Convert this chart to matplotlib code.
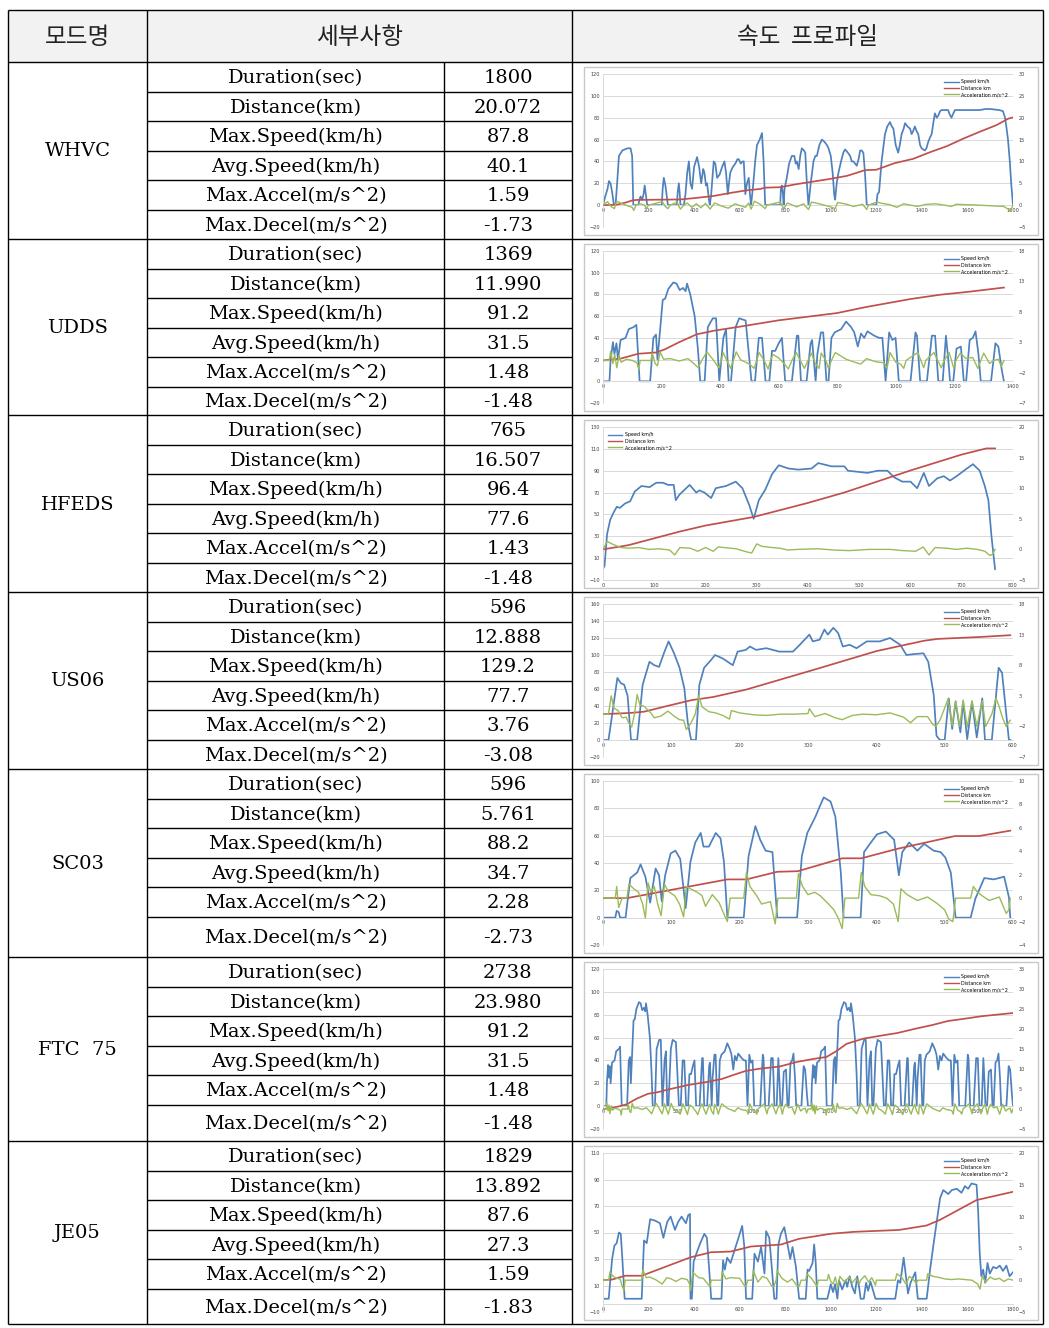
"""
Driving cycle summary table (Korean) with speed / distance / acceleration
profile thumbnails for each cycle.
"""

import matplotlib.pyplot as plt
from matplotlib.patches import Rectangle
from matplotlib.lines import Line2D

# ---------------------------------------------------------------- table text
header = ['모드명', '세부사항', '속도  프로파일']
modes = ['WHVC', 'UDDS', 'HFEDS', 'US06', 'SC03', 'FTC  75', 'JE05']
items = ['Duration(sec)', 'Distance(km)', 'Max.Speed(km/h)',
         'Avg.Speed(km/h)', 'Max.Accel(m/s^2)', 'Max.Decel(m/s^2)']
values = [
    ['1800', '20.072', '87.8', '40.1', '1.59', '-1.73'],
    ['1369', '11.990', '91.2', '31.5', '1.48', '-1.48'],
    ['765', '16.507', '96.4', '77.6', '1.43', '-1.48'],
    ['596', '12.888', '129.2', '77.7', '3.76', '-3.08'],
    ['596', '5.761', '88.2', '34.7', '2.28', '-2.73'],
    ['2738', '23.980', '91.2', '31.5', '1.48', '-1.48'],
    ['1829', '13.892', '87.6', '27.3', '1.59', '-1.83'],
]
legend_labels = ['Speed km/h', 'Distance km', 'Acceleration m/s^2']

# ---------------------------------------------------------------- profiles (time s, value)
whvc_speed = [(0, 0), (10, 8), (20, 15), (26, 22), (33, 20), (40, 12), (48, 0), (55, 0), (62, 20), (70, 45),
              (85, 50), (107, 52), (121, 52), (128, 45), (133, 0), (155, 0), (160, 5), (165, 8), (172, 5),
              (178, 10), (183, 18), (188, 10), (194, 0), (258, 0), (262, 15), (267, 25), (274, 18), (280, 8),
              (285, 0), (324, 0), (328, 12), (333, 20), (337, 10), (340, 0), (355, 0), (362, 10), (370, 30),
              (377, 40), (384, 20), (391, 15), (400, 35), (413, 44), (422, 35), (431, 20), (440, 33), (445, 30),
              (452, 18), (457, 20), (465, 5), (469, 0), (475, 10), (486, 40), (493, 38), (501, 25), (512, 28),
              (523, 35), (533, 40), (540, 30), (548, 10), (553, 20), (559, 30), (570, 35), (581, 38), (590, 42),
              (596, 42), (605, 38), (612, 40), (618, 40), (625, 10), (632, 20), (640, 25), (645, 10), (650, 0),
              (660, 20), (668, 40), (676, 55), (688, 60), (698, 66), (705, 40), (712, 0), (778, 0), (781, 15),
              (785, 18), (790, 10), (793, 0), (797, 15), (807, 25), (817, 38), (829, 45), (840, 45), (846, 38),
              (851, 40), (859, 33), (866, 45), (873, 52), (882, 50), (888, 48), (895, 20), (902, 0), (912, 20),
              (924, 40), (932, 45), (939, 45), (950, 55), (961, 60), (972, 58), (983, 55), (990, 52), (1000, 45),
              (1008, 30), (1015, 10), (1019, 5), (1026, 20), (1034, 30), (1045, 40), (1055, 48), (1063, 51),
              (1075, 48), (1085, 45), (1092, 40), (1099, 40), (1107, 38), (1114, 36), (1122, 42), (1129, 50),
              (1136, 50), (1143, 48), (1150, 30), (1158, 0), (1200, 0), (1205, 10), (1212, 12), (1223, 40),
              (1232, 55), (1238, 65), (1248, 72), (1260, 76), (1268, 72), (1275, 70), (1285, 55), (1296, 48),
              (1303, 55), (1311, 65), (1320, 70), (1326, 75), (1337, 72), (1348, 70), (1355, 65), (1362, 68),
              (1369, 72), (1376, 68), (1384, 65), (1392, 55), (1399, 52), (1413, 50), (1420, 52), (1428, 58),
              (1436, 62), (1443, 65), (1450, 75), (1457, 84), (1465, 80), (1472, 82), (1480, 86), (1486, 87),
              (1515, 87), (1522, 83), (1530, 80), (1538, 84), (1545, 87), (1654, 87), (1680, 88), (1698, 88),
              (1740, 87), (1756, 86), (1765, 80), (1772, 70), (1778, 60), (1786, 40), (1792, 20), (1800, 0)]
whvc_dist = [(0, 0), (60, 0.1), (100, 0.6), (130, 1.1), (150, 1.2), (340, 1.3), (400, 1.6), (486, 2.1),
             (560, 2.8), (632, 3.4), (690, 3.7), (712, 4.0), (778, 4.1), (850, 4.8), (924, 5.4), (997, 6.0),
             (1071, 6.7), (1150, 8.0), (1200, 8.1), (1280, 9.6), (1362, 10.6), (1435, 12.1), (1510, 13.5),
             (1581, 15.2), (1650, 16.7), (1727, 18.3), (1780, 19.8), (1800, 20.07)]
whvc_acc = [(0, 0), (20, 0.8), (35, -0.3), (50, -0.8), (60, 0.9), (80, 0.4), (100, 0), (128, -0.5),
            (135, -1.2), (145, 0), (165, 0.3), (183, 0), (190, -0.8), (200, 0), (260, 0.8), (275, -0.4),
            (285, -0.8), (295, 0), (326, 0.7), (333, -0.3), (340, -0.9), (355, 0), (370, 0.5), (390, -0.5),
            (410, 0.3), (430, -0.6), (450, 0.4), (470, -0.9), (490, 0.5), (520, -0.2), (550, -0.7), (580, 0.3),
            (625, -0.5), (640, 0.5), (650, -0.9), (665, 0.9), (690, 0.2), (712, -0.8), (720, 0), (778, 0.7),
            (793, -0.8), (810, 0.5), (850, -0.4), (880, 0.3), (902, -1.0), (915, 0.7), (950, 0.3), (1000, -0.4),
            (1019, -0.8), (1030, 0.6), (1070, 0.2), (1100, -0.3), (1140, 0.2), (1158, -1.0), (1165, 0),
            (1202, 0.7), (1225, 0.4), (1260, 0.1), (1290, -0.5), (1320, 0.3), (1380, -0.3), (1420, 0.2),
            (1460, 0.3), (1500, 0), (1530, -0.3), (1550, 0.2), (1650, 0), (1760, -0.3), (1790, -1.3), (1800, 0)]

udds_speed = [(0, 0), (22, 0), (26, 20), (34, 36), (39, 25), (46, 35), (51, 20), (60, 38), (77, 40), (88, 48),
              (105, 50), (114, 52), (125, 0), (161, 0), (172, 40), (181, 43), (186, 20), (204, 75), (212, 76),
              (223, 85), (240, 91), (251, 90), (262, 84), (273, 86), (282, 83), (287, 90), (298, 80), (313, 60),
              (324, 30), (332, 0), (347, 0), (358, 50), (375, 58), (386, 58), (397, 0), (411, 40), (420, 48),
              (429, 0), (437, 0), (453, 50), (465, 58), (487, 56), (507, 0), (519, 0), (532, 40), (543, 40),
              (555, 0), (568, 0), (577, 28), (588, 28), (600, 35), (611, 40), (622, 0), (645, 0), (662, 42),
              (667, 42), (676, 0), (695, 0), (709, 35), (714, 38), (726, 0), (732, 25), (744, 45), (752, 45),
              (763, 0), (770, 0), (780, 40), (791, 45), (813, 48), (830, 55), (847, 50), (858, 45), (870, 32),
              (881, 44), (892, 40), (903, 46), (926, 42), (943, 40), (954, 40), (965, 0), (977, 45), (988, 38),
              (999, 40), (1010, 0), (1050, 0), (1067, 45), (1072, 42), (1083, 0), (1106, 0), (1123, 42),
              (1134, 42), (1145, 0), (1160, 0), (1171, 42), (1179, 20), (1185, 0), (1196, 0), (1207, 30),
              (1222, 32), (1232, 0), (1240, 0), (1252, 38), (1263, 40), (1272, 46), (1282, 25), (1290, 0),
              (1325, 0), (1340, 35), (1350, 32), (1362, 10), (1369, 0)]
udds_dist = [(0, 0), (60, 0.3), (120, 1.1), (180, 1.3), (210, 1.8), (260, 3.0), (320, 4.3), (380, 4.9),
             (460, 5.5), (600, 6.6), (800, 7.8), (900, 8.8), (1050, 10.1), (1150, 10.8), (1250, 11.3),
             (1369, 11.99)]
udds_acc = [(0, 0), (22, 0), (26, 1.5), (34, -0.5), (40, 1.0), (47, -1.2), (55, 0.8), (62, -0.3), (80, 0.2),
            (100, 0), (116, -0.4), (122, -1.5), (127, 0), (164, 0), (168, 1.2), (178, -0.5), (186, -0.9),
            (195, 1.4), (207, 0.2), (230, 0.3), (260, -0.1), (290, 0.3), (310, -0.5), (325, -1.2), (337, 0),
            (355, 1.4), (375, 0.2), (395, -1.2), (404, 0), (410, 1.3), (425, -0.2), (436, -1.3), (445, 0),
            (455, 1.4), (470, 0.1), (500, -0.6), (516, -1.3), (525, 0), (533, 1.3), (550, 0), (564, -1.4),
            (572, 0), (580, 1.0), (600, 0.4), (620, -0.6), (633, -1.4), (645, 0), (660, 1.3), (680, -0.6),
            (688, -1.3), (700, 0), (712, 1.2), (725, -0.5), (738, -1.3), (745, 1.2), (760, 0.1), (770, -1.3),
            (780, 0), (793, 1.3), (830, 0.2), (860, -0.3), (880, -0.6), (900, 0.3), (930, -0.2), (960, -0.4),
            (970, -1.3), (980, 1.3), (1000, -0.3), (1016, -0.6), (1027, -1.3), (1035, 0), (1075, 1.3),
            (1095, -1.2), (1102, 0), (1130, 1.3), (1155, -1.2), (1165, 0), (1182, 1.3), (1198, -1.3),
            (1205, 0), (1220, 1.2), (1240, 0.3), (1262, 0.5), (1280, -1.3), (1290, 0), (1300, 1.2),
            (1320, -0.5), (1335, 0), (1350, 0.2), (1360, -1.0), (1369, 0)]

hfeds_speed = [(0, 0), (3, 3), (8, 32), (14, 45), (21, 52), (27, 57), (33, 56), (43, 60), (53, 62), (62, 71),
               (75, 76), (91, 75), (104, 79), (117, 79), (127, 77), (138, 77), (142, 63), (149, 68), (169, 77),
               (182, 70), (188, 72), (198, 70), (211, 65), (220, 74), (240, 76), (259, 80), (272, 74), (285, 59),
               (294, 46), (304, 63), (317, 73), (330, 87), (343, 95), (362, 92), (381, 91), (407, 92), (420, 97),
               (446, 94), (471, 94), (478, 90), (516, 88), (536, 90), (555, 90), (568, 84), (584, 80), (600, 80),
               (613, 74), (626, 88), (636, 76), (652, 83), (665, 85), (677, 81), (690, 85), (710, 92), (722, 96),
               (735, 90), (745, 76), (752, 63), (758, 30), (765, 0)]
hfeds_dist = [(0, 0), (50, 0.7), (149, 2.9), (200, 3.9), (294, 5.3), (400, 7.6), (471, 9.3), (600, 12.9),
              (700, 15.5), (748, 16.5), (765, 16.5)]
hfeds_acc = [(0, 0), (8, 1.3), (20, 0.8), (35, 0.3), (50, 0.2), (70, 0.3), (90, 0), (110, 0.1), (130, -0.1),
             (140, -0.9), (150, 0.3), (170, 0.2), (185, -0.3), (200, 0.3), (215, -0.3), (225, 0.4), (260, 0.1),
             (280, -0.4), (290, -0.6), (300, 0.9), (310, 0.5), (330, 0.3), (345, 0.2), (360, -0.1), (380, 0),
             (420, 0.1), (450, -0.1), (480, -0.2), (520, 0), (560, 0), (585, -0.2), (610, -0.3), (625, 0.4),
             (636, -0.9), (648, 0.3), (670, 0.2), (690, 0), (710, 0.2), (730, 0), (745, -0.3), (755, -1.0),
             (760, -0.8), (765, 0)]

us06_speed = [(0, 0), (8, 0), (14, 33), (21, 73), (26, 67), (31, 65), (36, 52), (41, 0), (50, 0), (58, 65),
              (68, 92), (75, 88), (82, 86), (90, 104), (96, 116), (104, 102), (112, 85), (119, 61), (124, 21),
              (129, 0), (136, 0), (141, 65), (148, 85), (158, 94), (164, 100), (175, 96), (190, 88), (197, 104),
              (209, 106), (215, 110), (224, 106), (239, 108), (258, 104), (278, 104), (288, 112), (302, 124),
              (307, 116), (317, 118), (324, 130), (329, 124), (337, 132), (344, 126), (351, 110), (361, 112),
              (371, 108), (386, 116), (405, 116), (420, 120), (435, 112), (444, 100), (454, 101), (469, 102),
              (476, 92), (484, 53), (488, 5), (493, 0), (500, 0), (506, 49), (511, 13), (516, 45), (523, 9),
              (527, 45), (533, 1), (540, 45), (547, 3), (555, 49), (559, 0), (569, 0), (579, 85), (584, 79),
              (594, 0), (596, 0)]
us06_dist = [(0, 0), (40, 0.2), (60, 0.4), (100, 1.5), (130, 2.3), (161, 2.8), (209, 4.0), (307, 7.2),
             (400, 10.3), (470, 12.0), (490, 12.3), (550, 12.6), (596, 12.9)]
us06_acc = [(0, 0), (8, 0), (12, 3.0), (16, 1.0), (22, 0.6), (28, -0.6), (34, -0.5), (38, -1.5), (42, -2.1),
            (46, 0), (50, 3.2), (54, 1.5), (60, 1.3), (70, 0.2), (75, -0.6), (85, -0.3), (95, 0.5), (105, -0.4),
            (112, -0.9), (118, -1.0), (122, -2.5), (128, -1.6), (135, 0), (140, 3.0), (145, 1.2), (155, 0.4),
            (165, 0.2), (175, -0.2), (185, -0.8), (188, 0.6), (200, 0.2), (220, -0.1), (240, -0.2), (260, 0),
            (280, 0), (300, 0.1), (302, 0.9), (310, -0.4), (325, 0.1), (340, -0.6), (350, -0.9), (365, -0.2),
            (380, 0), (400, -0.1), (420, 0.2), (440, -0.5), (450, -1.4), (460, -0.4), (475, -0.4), (482, -1.6),
            (487, -2.0), (493, -1.0), (500, 1.0), (505, 2.5), (511, -1.9), (516, 2.2), (522, -2.0), (527, 2.3),
            (533, -2.1), (540, 2.2), (547, -2.0), (555, 2.2), (560, -2.0), (569, 0), (575, 2.6), (579, 1.5),
            (585, -0.7), (590, -2.0), (596, -1.0)]

sc03_speed = [(0, 0), (18, 0), (20, 5), (23, 4), (25, 0), (33, 0), (40, 29), (50, 33), (55, 39), (62, 30),
              (69, 11), (77, 36), (82, 31), (86, 12), (91, 31), (99, 47), (106, 49), (113, 43), (121, 7),
              (128, 41), (135, 55), (143, 62), (147, 52), (155, 52), (165, 62), (172, 58), (177, 41), (182, 0),
              (206, 0), (213, 45), (223, 67), (230, 57), (238, 49), (248, 48), (255, 0), (284, 0), (291, 45),
              (299, 62), (311, 74), (316, 80), (323, 88), (333, 85), (340, 74), (348, 33), (352, 0), (377, 0),
              (382, 48), (392, 55), (401, 61), (414, 63), (426, 57), (433, 31), (438, 48), (448, 55), (460, 49),
              (470, 54), (484, 49), (494, 48), (501, 44), (509, 33), (516, 0), (538, 0), (545, 14), (558, 29),
              (572, 28), (587, 30), (594, 15), (596, 0)]
sc03_dist = [(0, 0), (35, 0), (113, 0.85), (182, 1.6), (210, 1.6), (255, 2.25), (285, 2.3), (350, 3.4),
             (378, 3.4), (430, 4.2), (515, 5.3), (550, 5.3), (596, 5.76)]
sc03_acc = [(0, 0), (18, 0), (20, 1.0), (23, -0.8), (28, 0), (35, 0), (38, 1.2), (45, 0.8), (52, 0.5),
            (58, -0.5), (62, -1.7), (66, 1.3), (70, 0.5), (75, 1.0), (80, -0.5), (85, -1.5), (90, 1.2),
            (95, 0.6), (105, 0.2), (112, -0.5), (118, -1.6), (122, 1.0), (128, 0.8), (138, 0.5), (145, 0.2),
            (150, -0.7), (160, 0.3), (170, -0.4), (178, -1.5), (182, -2.0), (186, 0), (206, 0), (210, 2.2),
            (215, 1.0), (225, 0.2), (232, -0.5), (245, -0.3), (252, -2.2), (256, 0), (283, 0), (286, 2.1),
            (292, 1.0), (300, 0.3), (310, 0.5), (318, 0.2), (330, -0.5), (338, -1.0), (345, -1.8), (350, -2.6),
            (354, 0), (374, 0), (378, 2.2), (383, 1.0), (392, 0.3), (405, 0.2), (415, 0), (425, -0.5),
            (432, -2.0), (436, 0.8), (445, 0.3), (460, -0.2), (475, 0.1), (490, -0.5), (500, -1.0),
            (506, -1.8), (512, -2.0), (516, 0), (538, 0), (542, 1.0), (548, 0.5), (555, 0.2), (565, -0.2),
            (580, 0.1), (590, -1.3), (594, -1.0), (596, 0)]

# FTC 75 trace in the picture is the UDDS trace driven twice (second hump at ~1369 s later)
ftc_repeat = 1369
ftc75_speed = udds_speed + [(t + ftc_repeat, v) for t, v in udds_speed[1:]]
ftc75_acc = udds_acc + [(t + ftc_repeat, a) for t, a in udds_acc[1:]]
ftc75_dist = [(0, 0), (30, 0.1), (100, 0.6), (160, 1.2), (220, 2.5), (300, 3.8), (365, 4.2), (450, 5.0),
              (568, 6.0), (700, 6.8), (793, 7.5), (870, 8.5), (951, 9.5), (1050, 10.1), (1177, 10.6),
              (1300, 11.8), (1402, 12.5), (1492, 13.0), (1560, 14.5), (1627, 16.3), (1740, 17.6), (1850, 18.3),
              (1966, 19.0), (2078, 20.0), (2200, 21.0), (2304, 22.0), (2420, 22.6), (2529, 23.2), (2738, 24.0)]

je05_speed = [(0, 0), (25, 0), (40, 30), (50, 40), (60, 42), (70, 50), (78, 49), (85, 30), (95, 0), (170, 0),
              (180, 44), (192, 42), (207, 60), (228, 59), (250, 57), (265, 46), (282, 58), (297, 62), (316, 52),
              (330, 58), (345, 62), (364, 57), (374, 63), (382, 64), (384, 0), (390, 0), (398, 28), (412, 35),
              (427, 42), (445, 49), (456, 46), (465, 25), (475, 0), (520, 0), (527, 29), (535, 22), (545, 31),
              (560, 27), (580, 38), (595, 46), (602, 50), (611, 55), (620, 40), (628, 0), (655, 0), (665, 34),
              (680, 28), (694, 39), (709, 19), (716, 51), (730, 46), (738, 30), (752, 0), (762, 0), (770, 41),
              (781, 49), (796, 54), (810, 41), (822, 30), (832, 39), (847, 24), (861, 0), (890, 0), (898, 22),
              (905, 21), (920, 27), (927, 41), (934, 27), (941, 0), (985, 0), (1000, 11), (1010, 5), (1019, 11),
              (1029, 0), (1036, 14), (1050, 7), (1065, 14), (1072, 9), (1083, 17), (1094, 9), (1106, 4),
              (1116, 17), (1125, 8), (1131, 0), (1145, 0), (1155, 12), (1164, 6), (1174, 13), (1181, 9),
              (1196, 0), (1283, 0), (1295, 14), (1305, 12), (1320, 31), (1330, 17), (1339, 4), (1350, 12),
              (1371, 20), (1382, 0), (1421, 0), (1436, 22), (1451, 41), (1465, 58), (1480, 76), (1494, 82),
              (1516, 79), (1531, 82), (1553, 83), (1574, 80), (1589, 85), (1603, 83), (1618, 87), (1640, 86),
              (1647, 66), (1654, 34), (1661, 17), (1669, 22), (1678, 12), (1688, 27), (1698, 19), (1713, 24),
              (1727, 23), (1742, 25), (1756, 21), (1771, 25), (1785, 17), (1800, 20)]
je05_dist = [(0, 0), (40, 0.1), (97, 0.7), (170, 0.7), (384, 3.6), (475, 4.4), (560, 4.5), (650, 5.3),
             (780, 5.6), (860, 6.5), (1000, 7.3), (1100, 7.6), (1300, 7.9), (1421, 8.6), (1480, 9.5),
             (1640, 12.6), (1800, 13.9)]
je05_acc = [(0, 0), (25, 0), (30, 1.3), (45, 0.6), (60, 0.3), (75, 0.2), (85, -1.0), (92, -1.6), (97, 0),
            (170, 0), (175, 1.6), (190, 0.4), (205, 0.5), (230, 0.1), (260, -0.6), (280, 0.4), (300, 0.2),
            (320, -0.2), (345, 0.3), (370, 0.1), (380, -0.6), (384, -1.6), (390, 0), (395, 1.2), (420, 0.4),
            (440, 0.3), (460, -0.6), (470, -1.0), (475, 0), (520, 0), (523, 1.3), (540, 0.2), (560, 0.4),
            (600, 0.3), (620, -0.8), (628, -1.0), (635, 0), (655, 0), (660, 1.5), (680, -0.3), (700, 0.6),
            (720, 0.3), (740, -0.9), (750, -1.0), (760, 0), (765, 1.5), (785, 0.3), (810, -0.3), (830, 0.2),
            (850, -0.8), (861, -1.0), (870, 0), (890, 0), (895, 1.0), (915, 0.3), (940, -1.0), (945, 0),
            (985, 0), (990, 0.9), (1000, -0.2), (1010, -0.6), (1020, 0.5), (1030, -1.2), (1040, 0.6),
            (1060, -0.3), (1080, 0.5), (1095, -0.4), (1110, 0.3), (1125, -0.5), (1131, 0), (1150, 0.7),
            (1165, -0.3), (1180, 0.4), (1196, -0.8), (1200, 0), (1283, 0), (1290, 1.0), (1310, 0.5),
            (1330, -0.6), (1345, 0.6), (1360, 0.2), (1375, -0.5), (1382, 0), (1421, 0), (1425, 1.0),
            (1450, 0.6), (1480, 0.4), (1500, 0.2), (1530, 0.1), (1560, 0.2), (1590, 0.1), (1620, 0),
            (1645, -0.6), (1655, -1.4), (1665, 0.6), (1680, -0.3), (1700, 0.5), (1720, 0.1), (1740, 0.3),
            (1760, -0.2), (1780, 0.2), (1800, 0)]

profiles = [
    (whvc_speed, whvc_dist, whvc_acc),
    (udds_speed, udds_dist, udds_acc),
    (hfeds_speed, hfeds_dist, hfeds_acc),
    (us06_speed, us06_dist, us06_acc),
    (sc03_speed, sc03_dist, sc03_acc),
    (ftc75_speed, ftc75_dist, ftc75_acc),
    (je05_speed, je05_dist, je05_acc),
]

# axis setup of each thumbnail: left range/step, right range/step, x max/step, legend corner, x-axis height
axis_cfg = [
    dict(left=(-20, 120, 20), right=(-5, 30, 5), x=(1800, 200), leg='upper right', xaxis_at=0),
    dict(left=(-20, 120, 20), right=(-7, 18, 5), x=(1400, 200), leg='upper right', xaxis_at=0),
    dict(left=(-10, 130, 20), right=(-5, 20, 5), x=(800, 100), leg='upper left', xaxis_at=-10),
    dict(left=(-20, 160, 20), right=(-7, 18, 5), x=(600, 100), leg='upper right', xaxis_at=0),
    dict(left=(-20, 100, 20), right=(-4, 10, 2), x=(600, 100), leg='upper right', xaxis_at=0),
    dict(left=(-20, 120, 20), right=(-5, 35, 5), x=(2738, 500), leg='upper right', xaxis_at=0),
    dict(left=(-10, 110, 20), right=(-5, 20, 5), x=(1800, 200), leg='upper right', xaxis_at=-4),
]

# ---------------------------------------------------------------- layout (pixels)
W, H = 1049, 1328
X_L, X_MODE, X_ITEM, X_VAL, X_R = 8, 147, 444, 572, 1043
Y_TOP, Y_HEAD = 10, 62
block_edges = [62, 239, 415, 592, 769, 957, 1141, 1324]
SUB_H = 29.5

SERIF = 'DejaVu Serif'
KR = ['Noto Sans CJK KR', 'DejaVu Sans']
BLUE, RED, GREEN = '#4F81BD', '#C0504D', '#9BBB59'

fig = plt.figure(figsize=(W / 100, H / 100), dpi=100)
tab = fig.add_axes([0, 0, 1, 1])
tab.set_xlim(0, W)
tab.set_ylim(H, 0)
tab.axis('off')


def hline(y, x0, x1):
    tab.plot([x0, x1], [y, y], color='black', lw=1.0, solid_capstyle='butt')


def vline(x, y0, y1):
    tab.plot([x, x], [y0, y1], color='black', lw=1.0, solid_capstyle='butt')


# header
tab.add_patch(Rectangle((X_L, Y_TOP), X_R - X_L, Y_HEAD - Y_TOP, facecolor='#f2f2f2', edgecolor='none'))
head_x = [(X_L + X_MODE) / 2, (X_MODE + X_VAL) / 2, (X_VAL + X_R) / 2]
for txt, hx in zip(header, head_x):
    tab.text(hx, (Y_TOP + Y_HEAD) / 2 + 1, txt, family=KR, fontsize=17, color='#222222',
             ha='center', va='center')

# outer frame and column rules
hline(Y_TOP, X_L, X_R)
hline(Y_HEAD, X_L, X_R)
for x in (X_L, X_MODE, X_VAL, X_R):
    vline(x, Y_TOP, block_edges[-1])
vline(X_ITEM, Y_HEAD, block_edges[-1])


def mini_chart(top, bottom, cfg, speed, dist, acc):
    # light frame of the pasted picture
    tab.add_patch(Rectangle((584, top + 5), 454, bottom - top - 9, fill=False,
                            edgecolor='#c8c8c8', lw=1.0))
    x0, x1 = 603, 1013
    y0, y1 = top + 12, bottom - 12
    ax = fig.add_axes([x0 / W, 1 - y1 / H, (x1 - x0) / W, (y1 - y0) / H])
    lo, hi, st = cfg['left']
    rlo, rhi, rst = cfg['right']
    xmax, xst = cfg['x']

    ax.plot([p[0] for p in speed], [p[1] for p in speed], color=BLUE, lw=1.25)
    ax.set_ylim(lo, hi)
    ax.set_yticks(range(lo, hi + 1, st))
    ax.set_xlim(0, xmax)
    ax.set_xticks(range(0, xmax + 1, xst))
    ax.grid(axis='y', color='#d9d9d9', lw=0.7)
    ax.set_axisbelow(True)
    ax.tick_params(labelsize=3.6, colors='#404040', length=0, pad=2)
    for s in ('top', 'right'):
        ax.spines[s].set_visible(False)
    ax.spines['left'].set_color('#d9d9d9')
    ax.spines['left'].set_linewidth(0.7)
    ax.spines['bottom'].set_position(('data', cfg['xaxis_at']))
    ax.spines['bottom'].set_color('#d9d9d9')
    ax.spines['bottom'].set_linewidth(0.7)

    ax2 = ax.twinx()
    ax2.plot([p[0] for p in dist], [p[1] for p in dist], color=RED, lw=1.25)
    ax2.plot([p[0] for p in acc], [p[1] for p in acc], color=GREEN, lw=1.0)
    ax2.set_ylim(rlo, rhi)
    ax2.set_yticks(range(rlo, rhi + 1, rst))
    ax2.tick_params(labelsize=3.6, colors='#404040', length=0, pad=4)
    for s in ax2.spines.values():
        s.set_visible(False)

    handles = [Line2D([], [], color=c, lw=1.0) for c in (BLUE, RED, GREEN)]
    ax2.legend(handles, legend_labels, loc=cfg['leg'], fontsize=3.4, frameon=False,
               handlelength=3.0, handletextpad=0.5, labelspacing=0.3, borderaxespad=0.7)


for i, mode in enumerate(modes):
    top, bottom = block_edges[i], block_edges[i + 1]
    hline(bottom, X_L, X_R)
    row_edges = [top + SUB_H * k for k in range(6)] + [bottom]
    for y in row_edges[1:-1]:
        hline(y, X_MODE, X_VAL)
    tab.text((X_L + X_MODE) / 2, (top + bottom) / 2 + 1, mode, family=SERIF, fontsize=14,
             ha='center', va='center')
    for k, (item, val) in enumerate(zip(items, values[i])):
        yc = (row_edges[k] + row_edges[k + 1]) / 2 + 1.5
        tab.text((X_MODE + X_ITEM) / 2, yc, item, family=SERIF, fontsize=14, ha='center', va='center')
        tab.text((X_ITEM + X_VAL) / 2, yc, val, family=SERIF, fontsize=14, ha='center', va='center')
    mini_chart(top, bottom, axis_cfg[i], *profiles[i])

plt.savefig('out.png', dpi=100)
